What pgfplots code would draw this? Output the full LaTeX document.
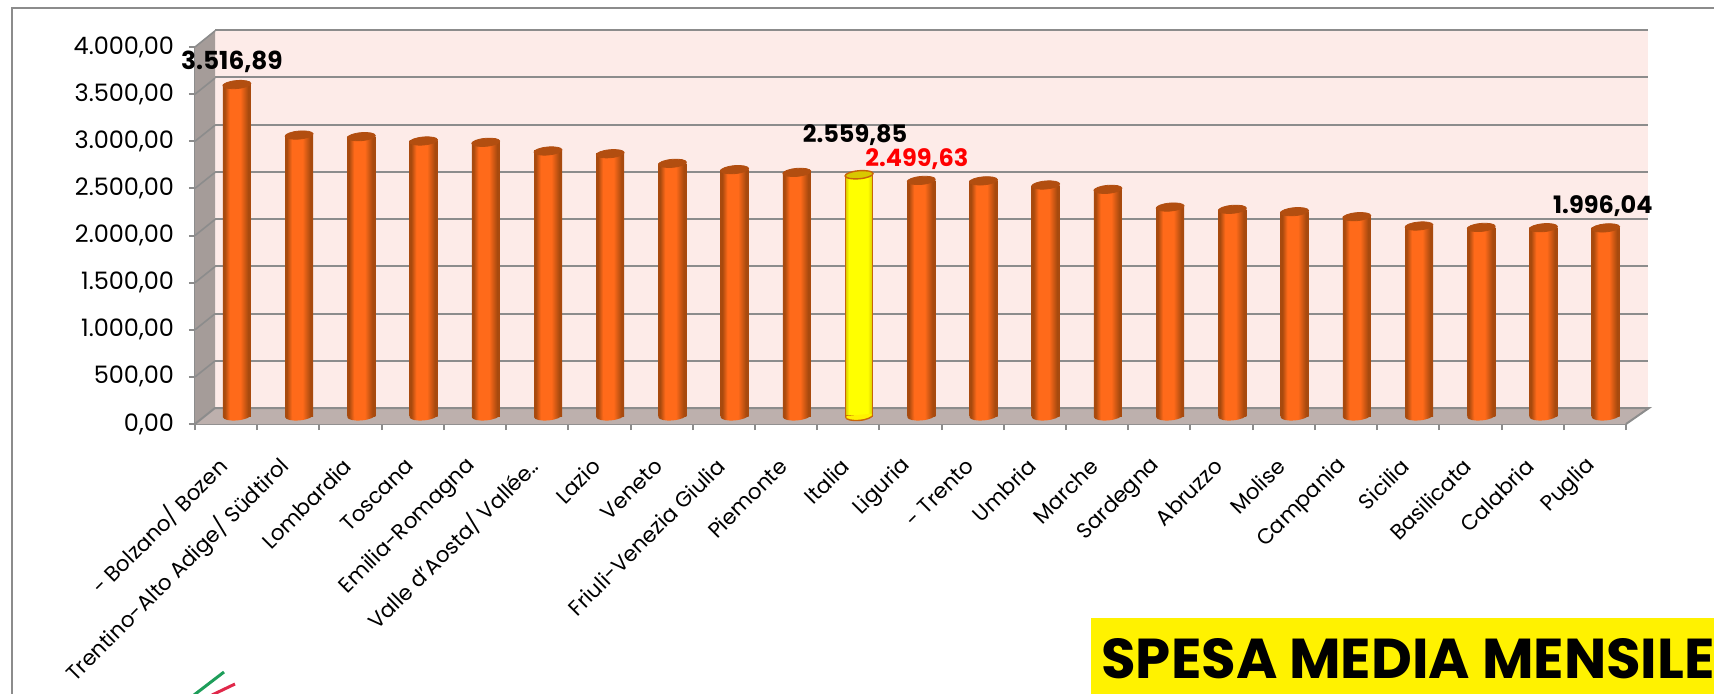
\documentclass[border=0pt]{standalone}
\usepackage{fontspec}
\setmainfont{Poppins}
\usepackage{pgfplots}
\usepackage{pgfplotstable}
\pgfplotsset{compat=1.18}
\definecolor{wallc}{HTML}{FDEBE8}
\definecolor{sidec}{HTML}{A59C99}
\definecolor{floorc}{HTML}{BDB0AD}
\definecolor{gridc}{HTML}{8C8C8C}
\definecolor{darkor}{HTML}{A84A0E}
\definecolor{midor}{HTML}{FF6A1A}
\definecolor{topor}{HTML}{B24E10}
\definecolor{yedge}{HTML}{C8640A}
\definecolor{ytop}{HTML}{D8C800}
\pgfdeclarehorizontalshading{cyl}{100bp}{color(0bp)=(darkor); color(25bp)=(darkor); color(28bp)=(darkor); color(37bp)=(midor); color(56bp)=(midor); color(70bp)=(darkor); color(75bp)=(darkor); color(100bp)=(darkor)}
\pgfdeclarehorizontalshading{cyly}{100bp}{color(0bp)=(ytop); color(25bp)=(ytop); color(31bp)=(yellow); color(66bp)=(yellow); color(75bp)=(ytop); color(100bp)=(ytop)}
\pgfdeclareplotmark{cyltop}{\pgfpathellipse{\pgfpointorigin}{\pgfqpoint{7pt}{0pt}}{\pgfqpoint{0pt}{2pt}}\pgfusepathqfillstroke}
% fondo del cilindro: solo la meta' inferiore dell'ellisse
\pgfdeclareplotmark{cylbot}{\pgfpathmoveto{\pgfqpoint{-7pt}{0pt}}\pgfpatharc{180}{360}{7pt and 2.2pt}\pgfpathclose\pgfshadepath{cyl}{0}\pgfusepath{discard}}
\pgfdeclareplotmark{cylboty}{\pgfpathmoveto{\pgfqpoint{-6.75pt}{0pt}}\pgfpatharc{180}{360}{6.75pt and 2.2pt}\pgfusepathqfillstroke\pgfpathrectangle{\pgfqpoint{-6.3pt}{-0.6pt}}{\pgfqpoint{12.6pt}{1.2pt}}\pgfusepathqfill}
\pgfplotstableread{
x y
1 3516.89
2 2981
3 2964
4 2918
5 2904
6 2812
7 2783
8 2681
9 2614
10 2585
12 2499.63
13 2495
14 2451
15 2405
16 2217
17 2193
18 2168
19 2115
20 2016
21 2001
22 1998
23 1996.04
}\spesa
\begin{document}
\begin{tikzpicture}
\path[use as bounding box] (0,0) rectangle (857pt,346.5pt);
\clip (0,0) rectangle (857pt,346.5pt);
% cornice esterna
\draw[gridc,line width=1pt] (6pt,-2pt) -- (6pt,342.5pt) -- (859pt,342.5pt);
% parete di fondo
\begin{axis}[
  at={(107.5pt,142.5pt)}, anchor=south west, scale only axis,
  width=716.5pt, height=189pt,
  xmin=0, xmax=1, ymin=0, ymax=4000,
  axis background/.style={fill=wallc},
  separate axis lines,
  every outer y axis line/.append style={draw=none},
  every outer x axis line/.append style={draw=gridc,line width=1pt},
  axis line style={gridc,line width=1pt},
  xtick=\empty, ytick={500,1000,...,3500}, yticklabels={},
  major tick length=0pt,
  ymajorgrids, grid style={gridc,line width=1pt},
]
\end{axis}
% assi frontali
\begin{axis}[
  at={(97.5pt,134.5pt)}, anchor=south west, scale only axis,
  width=715.5pt, height=188.5pt,
  xmin=0.5, xmax=23.5, ymin=0, ymax=4000,
  clip=false,
  axis x line*=bottom, axis y line*=left,
  axis line style={gridc,line width=1pt,-},
  tick style={gridc,line width=1pt},
  tick align=outside,
  major tick length=3pt, minor tick length=3pt,
  xtick={1,...,23}, minor xtick={0.5,1.5,...,23.5},
  x tick style={draw=none}, minor x tick style={draw=gridc},
  xticklabels={- Bolzano/ Bozen,Trentino-Alto Adige/ Südtirol,Lombardia,Toscana,Emilia-Romagna,Valle d'Aosta/ Vallée..,Lazio,Veneto,Friuli-Venezia Giulia,Piemonte,Italia,Liguria,- Trento,Umbria,Marche,Sardegna,Abruzzo,Molise,Campania,Sicilia,Basilicata,Calabria,Puglia},
  xticklabel style={rotate=45,anchor=east,font=\fontsize{10.7}{13}\selectfont,yshift=-10.4pt,xshift=-9pt},
  ytick={0,500,...,4000},
  yticklabel style={font=\fontsize{12}{14}\selectfont,xshift=-4pt},
  /pgf/number format/.cd, fixed, fixed zerofill, precision=2, use comma, 1000 sep={.}, assume math mode=true,
]
\fill[floorc] (axis cs:0.5,0) -- ++(10.25pt,8pt) -- ++(716.5pt,0pt) -- ++(-11.25pt,-8pt) -- cycle;
\fill[sidec] (axis cs:0.5,0) -- ++(10pt,8pt) -- ++(0pt,189pt) -- (axis cs:0.5,4000) -- cycle;
\draw[gridc,line width=1pt] (axis cs:0.5,0) -- ++(10pt,8pt) -- ++(717pt,0pt) -- (axis cs:23.5,0);
\pgfplotsinvokeforeach{500,1000,...,4000}{\draw[gridc,line width=.8pt] (axis cs:0.5,#1) -- ++(10pt,8pt);}
\end{axis}
% barre, spostate a meta' profondita'
\begin{axis}[
  at={(102.9pt,138.5pt)}, anchor=south west, scale only axis,
  width=715.5pt, height=188.5pt,
  xmin=0.5, xmax=23.5, ymin=0, ymax=4000,
  clip=false, axis lines=none,
]
\addplot[only marks, mark=cylbot, mark options={rotate=5}] table[x=x,y expr=0] {\spesa};
% ogni barra e' un plot a se', altrimenti la sfumatura copre tutto l'asse
\pgfplotsinvokeforeach{1,...,10,12,13,...,23}{
  \addplot[ybar, bar width=14pt, bar shift=0pt, shading=cyl, draw=none, restrict x to domain=#1:#1] table[x=x,y=y] {\spesa};
}
\addplot[only marks, mark=cyltop, mark options={fill=topor,draw=topor,rotate=5}] table[x=x,y=y] {\spesa};
\addplot[ybar, bar width=13.5pt, bar shift=0pt, shading=cyly, draw=yedge, line width=.7pt] coordinates {(11,2559.85)};
\addplot[only marks, mark=cylboty, mark options={fill=yellow,draw=yedge,line width=.7pt,rotate=5}] coordinates {(11,0)};
\addplot[only marks, mark=cyltop, mark options={fill=ytop,draw=yedge,line width=.7pt,rotate=5}] coordinates {(11,2559.85)};
\node[font=\fontsize{12.4}{14}\selectfont\bfseries,xshift=-2.5pt,yshift=11.5pt] at (axis cs:1,3516.89) {3.516,89};
\node[font=\fontsize{12}{14}\selectfont\bfseries,xshift=-2pt,yshift=19.8pt] at (axis cs:11,2559.85) {2.559,85};
\node[font=\fontsize{12}{14}\selectfont\bfseries,text=red,xshift=-2.2pt,yshift=10.8pt] at (axis cs:12,2499.63) {2.499,63};
\node[font=\fontsize{12}{14}\selectfont\bfseries,xshift=-1.4pt,yshift=11.1pt] at (axis cs:23,1996.04) {1.996,04};
\end{axis}
% logo e riquadro
\draw[color={rgb,255:red,30;green,158;blue,90},line width=1.5pt] (97pt,-1pt) -- (112pt,10.5pt);
\draw[color={rgb,255:red,224;green,40;blue,74},line width=1.5pt] (106pt,-1pt) -- (117.5pt,4.5pt);
\fill[yellow] (545.5pt,-1pt) rectangle (858pt,37.5pt);
\node[anchor=base west,inner sep=0pt,font=\fontsize{28.1}{32}\selectfont\bfseries] at (550.5pt,7.5pt) {SPESA MEDIA MENSILE};
\end{tikzpicture}
\end{document}
